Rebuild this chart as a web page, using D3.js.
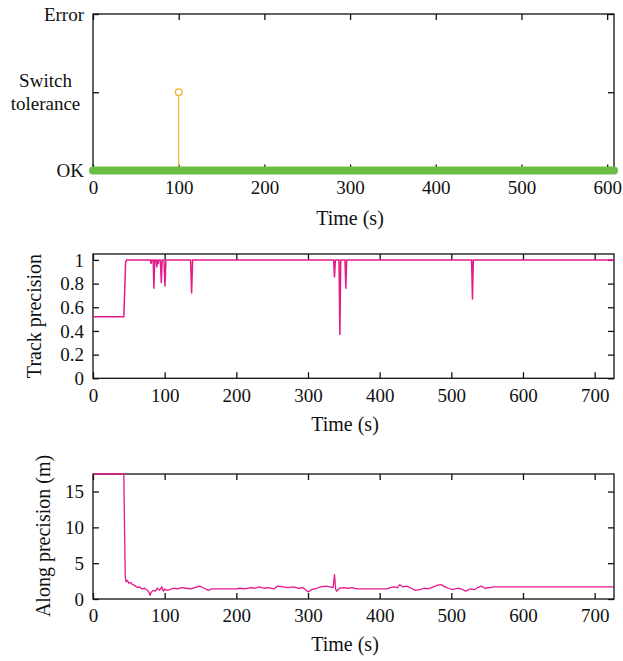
<!DOCTYPE html>
<html>
<head>
<meta charset="utf-8">
<script src="https://cdn.jsdelivr.net/npm/d3@7"></script>
<style>
  html, body { margin: 0; padding: 0; background: #fff; }
  svg { display: block; }
  text { font-family: "Liberation Serif", "Times New Roman", serif; fill: #111; }
</style>
</head>
<body>
<script>
// ---------- DATA ----------
// Panel 1: switch status
const stateLabels = ["OK", "Switch tolerance", "Error"];
const stateLevels = [0, 1, 2];
const statusTimes = [0, 608];
const statusValues = [0, 0];
const switchTimes = [100];
const switchLevels = [1];
const xTicksTop = [0, 100, 200, 300, 400, 500, 600];

// Panel 2: track precision
const trackTimes = [0, 43, 45.5, 47, 80, 81, 82, 84, 85, 86, 88, 89, 90, 91, 92, 94, 95.3, 96.5, 99, 100.4, 101.8, 103,
  136.2, 137.6, 139, 335.8, 337, 338.2, 343.3, 344.5, 345.7, 351.6, 352.8, 354, 528.3, 529.5, 530.7, 727];
const trackValues = [0.52, 0.52, 0.98, 1, 1, 0.97, 1, 1, 0.76, 1, 1, 0.94, 1, 0.97, 1, 1, 0.81, 1, 1, 0.78, 1, 1,
  1, 0.72, 1, 1, 0.855, 1, 1, 0.37, 1, 1, 0.76, 1, 1, 0.67, 1, 1];
const yTicksTrack = [0, 0.2, 0.4, 0.6, 0.8, 1];

// Panel 3: along precision (m)
const alongTimes = [0, 43, 44, 45, 46, 48, 50, 53, 55, 58, 62, 65, 68, 72, 75, 78, 79.5, 81, 84, 87, 90, 93, 96, 98, 100,
  103, 107, 112, 118, 124, 130, 136, 142, 149, 155, 161, 165, 200, 205, 212, 220, 226, 232, 238, 245, 252, 258, 265,
  272, 280, 287, 293, 300, 305, 312, 318, 325, 330, 335, 337, 338.5, 340, 344, 350, 356, 362, 368, 410, 415, 420, 425,
  428, 432, 438, 444, 450, 456, 462, 468, 475, 480, 486, 491, 496, 502, 508, 514, 520, 526, 532, 537, 542, 547, 553,
  560, 727];
const alongValues = [17.45, 17.45, 10, 3.2, 2.4, 2.6, 2.2, 2.3, 2.0, 1.9, 1.6, 1.7, 1.4, 1.5, 1.3, 1.0, 0.5, 0.9, 1.2,
  1.1, 1.5, 1.2, 1.7, 1.1, 1.4, 1.2, 1.3, 1.5, 1.4, 1.6, 1.5, 1.4, 1.6, 1.8, 1.5, 1.2, 1.4, 1.4, 1.5, 1.4, 1.6, 1.5,
  1.7, 1.5, 1.6, 1.4, 1.8, 1.7, 1.6, 1.7, 1.5, 1.6, 1.0, 1.3, 1.5, 1.7, 1.8, 1.7, 1.6, 3.4, 1.4, 1.1, 1.5, 1.6, 1.5,
  1.6, 1.4, 1.4, 1.6, 1.7, 1.6, 2.0, 1.7, 1.8, 1.5, 1.2, 1.3, 1.5, 1.4, 1.7, 1.9, 2.0, 1.7, 1.5, 1.3, 1.5, 1.4, 1.1,
  1.4, 1.3, 1.6, 1.8, 1.5, 1.6, 1.7, 1.7];
const yTicksAlong = [0, 5, 10, 15];
const xTicksLong = [0, 100, 200, 300, 400, 500, 600, 700];

// ---------- DRAW ----------
const W = 623, H = 661;
const svg = d3.select("body").append("svg").attr("width", W).attr("height", H);
const magenta = "#e5198a";
const FS = 19;

function frame(x, y, xTicks, yTicks, yFmt) {
  const g = svg.append("g");
  const [x0, x1] = x.range();
  const [y0, y1] = y.range();
  const bottom = g.append("g").attr("transform", `translate(0,${y0})`)
    .call(d3.axisBottom(x).tickValues(xTicks).tickSizeInner(-6).tickSizeOuter(0).tickPadding(10).tickFormat(d3.format("d")));
  const top = g.append("g").attr("transform", `translate(0,${y1})`)
    .call(d3.axisTop(x).tickValues(xTicks).tickSizeInner(-6).tickSizeOuter(0).tickFormat(""));
  const left = g.append("g").attr("transform", `translate(${x0},0)`)
    .call(d3.axisLeft(y).tickValues(yTicks).tickSizeInner(-6).tickSizeOuter(0).tickPadding(9).tickFormat(yFmt));
  const right = g.append("g").attr("transform", `translate(${x1},0)`)
    .call(d3.axisRight(y).tickValues(yTicks).tickSizeInner(-6).tickSizeOuter(0).tickFormat(""));
  [bottom, top, left, right].forEach(a => {
    a.select(".domain").remove();
    a.selectAll("line").attr("stroke", "#111").attr("stroke-width", 1.3);
    a.selectAll("text").attr("font-size", FS).attr("font-family", "Liberation Serif, serif").attr("fill", "#111");
  });
  g.append("rect").attr("x", x0).attr("y", y1).attr("width", x1 - x0).attr("height", y0 - y1)
    .attr("fill", "none").attr("stroke", "#111").attr("stroke-width", 1.3);
  return { g, left };
}

function title(txt, x, y, rot) {
  const t = svg.append("text").attr("font-size", 20).attr("text-anchor", "middle").text(txt);
  if (rot) t.attr("transform", `translate(${x},${y}) rotate(-90)`);
  else t.attr("x", x).attr("y", y);
}

// Panel 1
{
  const x = d3.scaleLinear().domain([0, 608]).range([93, 614]);
  const y = d3.scaleLinear().domain([0, 2]).range([170.5, 14]);
  const { left } = frame(x, y, xTicksTop, stateLevels, d => d === 1 ? "" : stateLabels[d]);
  // two-line middle label
  const mt = svg.append("text").attr("font-size", FS).attr("text-anchor", "middle");
  const words = stateLabels[1].split(" ");
  mt.append("tspan").attr("x", 45.5).attr("y", y(1) - 5).text(words[0]);
  mt.append("tspan").attr("x", 45.5).attr("y", y(1) + 17.5).text(words[1]);

  const statusData = statusTimes.map((t, i) => [t, statusValues[i]]);
  svg.append("path").datum(statusData)
    .attr("d", d3.line().x(d => x(d[0])).y(d => y(d[1])))
    .attr("fill", "none").attr("stroke", "#6bbd45").attr("stroke-width", 8).attr("stroke-linecap", "round");

  switchTimes.forEach((t, i) => {
    svg.append("line").attr("x1", x(t)).attr("x2", x(t)).attr("y1", y(0) - 4).attr("y2", y(switchLevels[i]) + 3.3)
      .attr("stroke", "#f3b32c").attr("stroke-width", 1.2);
    svg.append("circle").attr("cx", x(t)).attr("cy", y(switchLevels[i])).attr("r", 3.3)
      .attr("fill", "none").attr("stroke", "#f3b32c").attr("stroke-width", 1.3);
  });
  title("Time (s)", 350, 225);
}

// Panel 2
{
  const x = d3.scaleLinear().domain([0, 727]).range([93, 614]);
  const y = d3.scaleLinear().domain([0, 1.05]).range([378.3, 254]);
  frame(x, y, xTicksLong, yTicksTrack, d => d === 0 || d === 1 ? String(d) : String(d));
  const data = trackTimes.map((t, i) => [t, trackValues[i]]);
  svg.append("path").datum(data)
    .attr("d", d3.line().x(d => x(d[0])).y(d => y(d[1])))
    .attr("fill", "none").attr("stroke", magenta).attr("stroke-width", 1.5).attr("stroke-linejoin", "round");
  title("Time (s)", 345, 431);
  title("Track precision", 41, 316, true);
}

// Panel 3
{
  const x = d3.scaleLinear().domain([0, 727]).range([93, 614]);
  const y = d3.scaleLinear().domain([0, 17.45]).range([599, 474]);
  frame(x, y, xTicksLong, yTicksAlong, d3.format("d"));
  const data = alongTimes.map((t, i) => [t, alongValues[i]]);
  svg.append("path").datum(data)
    .attr("d", d3.line().x(d => x(d[0])).y(d => y(d[1])))
    .attr("fill", "none").attr("stroke", magenta).attr("stroke-width", 1.3).attr("stroke-linejoin", "round");
  title("Time (s)", 345, 651);
  title("Along precision (m)", 49.5, 536, true);
}
</script>
</body>
</html>
